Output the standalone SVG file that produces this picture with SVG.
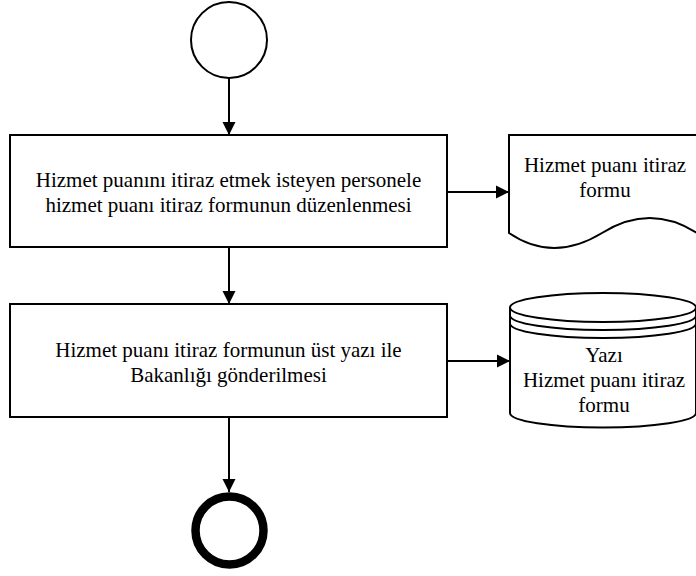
<svg xmlns="http://www.w3.org/2000/svg" width="696" height="576" viewBox="0 0 696 576">
  <style>
    .shape { fill: #ffffff; stroke: #000000; stroke-width: 2; }
    .line { fill: none; stroke: #000000; stroke-width: 2; }
    .label { font-size: 21px; fill: #000000; text-anchor: middle; }
  </style>
  <defs>
    <marker id="arrow" markerUnits="userSpaceOnUse" markerWidth="14" markerHeight="14" viewBox="0 0 14 14" refX="13" refY="7" orient="auto">
      <path d="M0,0.5 L13,7 L0,13.5 Z" fill="#000000"/>
    </marker>
  </defs>

  <g id="start">
    <circle class="shape" cx="229" cy="40" r="38"/>
  </g>

  <g font-family="Liberation Serif, DejaVu Serif, serif">
    <g id="task-form">
      <rect class="shape" x="10" y="135" width="437" height="112"/>
      <text class="label" x="228.5" y="187">Hizmet puanını itiraz etmek isteyen personele</text>
      <text class="label" x="228.5" y="212">hizmet puanı itiraz formunun düzenlenmesi</text>
    </g>

    <g id="doc-form">
      <path class="shape" d="M509,233 L509,135 L697,135 L697,233 Q650,203 602,233 Q553,263 509,233 Z"/>
      <text class="label" x="605" y="172">Hizmet puanı itiraz</text>
      <text class="label" x="605" y="197">formu</text>
    </g>

    <g id="task-send">
      <rect class="shape" x="10" y="304" width="437" height="113"/>
      <text class="label" x="228.5" y="357">Hizmet puanı itiraz formunun üst yazı ile</text>
      <text class="label" x="228.5" y="382">Bakanlığı gönderilmesi</text>
    </g>

    <g id="store-letter">
      <path class="shape" d="M510,307.5 L510,413 A93,14.5 0 0 0 696,413 L696,307.5 A93,14.5 0 0 0 510,307.5 Z"/>
      <path class="line" d="M510,307.5 A93,14.5 0 0 0 696,307.5"/>
      <path class="line" d="M510,315.5 A93,14.5 0 0 0 696,315.5"/>
      <path class="line" d="M510,323.5 A93,14.5 0 0 0 696,323.5"/>
      <text class="label" x="604" y="362">Yazı</text>
      <text class="label" x="604" y="387">Hizmet puanı itiraz</text>
      <text class="label" x="604" y="412">formu</text>
    </g>
  </g>

  <g id="end">
    <circle cx="229.5" cy="530.5" r="34" fill="#ffffff" stroke="#000000" stroke-width="8.5"/>
  </g>

  <g id="connectors">
    <line class="line" x1="229" y1="78" x2="229" y2="135" marker-end="url(#arrow)"/>
    <line class="line" x1="229" y1="247" x2="229" y2="304" marker-end="url(#arrow)"/>
    <line class="line" x1="229" y1="417" x2="229" y2="492" marker-end="url(#arrow)"/>
    <line class="line" x1="447" y1="192" x2="509" y2="192" marker-end="url(#arrow)"/>
    <line class="line" x1="447" y1="361" x2="510" y2="361" marker-end="url(#arrow)"/>
  </g>
</svg>
